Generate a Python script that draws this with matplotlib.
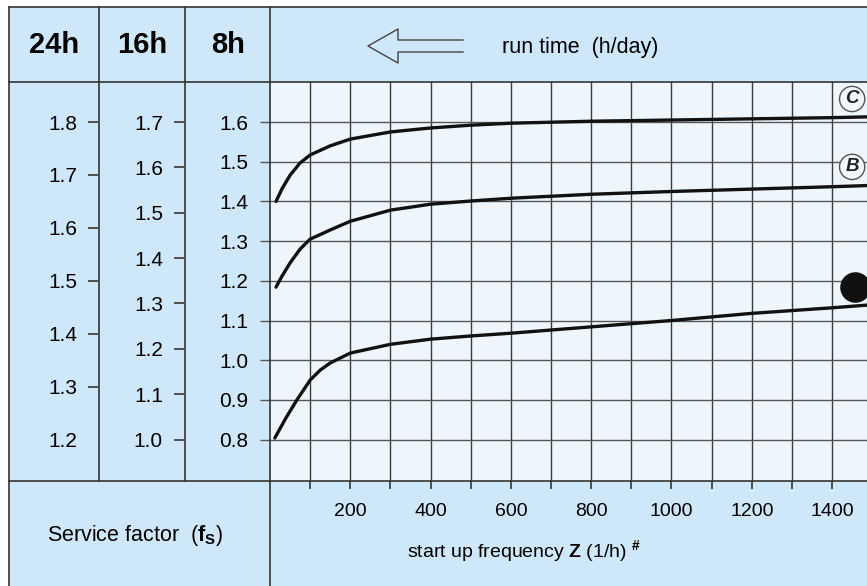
import numpy as np
import matplotlib
matplotlib.use("Agg")
import matplotlib.pyplot as plt
from matplotlib.lines import Line2D
from matplotlib.patches import Rectangle

plt.rcParams['font.family'] = ['Liberation Sans', 'DejaVu Sans']
plt.rcParams['mathtext.fontset'] = 'custom'
plt.rcParams['mathtext.rm'] = 'Liberation Sans'
plt.rcParams['mathtext.bf'] = 'Liberation Sans:bold'
plt.rcParams['mathtext.it'] = 'Liberation Sans:italic'

# ---------------------------------------------------------------- data
# start up frequency Z (1/h) and service factor on the 8h scale
z_c = [15, 30, 50, 75, 100, 150, 200, 300, 400, 500, 600, 800, 1000, 1200, 1400, 1490]
fs_c = [1.400, 1.432, 1.466, 1.497, 1.517, 1.540, 1.557, 1.575, 1.585, 1.592,
        1.597, 1.602, 1.605, 1.608, 1.611, 1.613]

z_b = [15, 30, 50, 75, 100, 150, 200, 300, 400, 500, 600, 800, 1000, 1200, 1400, 1490]
fs_b = [1.184, 1.212, 1.245, 1.280, 1.305, 1.328, 1.350, 1.378, 1.393, 1.401,
        1.408, 1.418, 1.425, 1.431, 1.437, 1.440]

z_a = [12, 40, 67, 100, 125, 150, 200, 300, 400, 500, 600, 800, 1000, 1200, 1400, 1490]
fs_a = [0.804, 0.855, 0.900, 0.950, 0.975, 0.993, 1.018, 1.040, 1.053, 1.061,
        1.068, 1.084, 1.100, 1.118, 1.132, 1.139]

ticks_8h = [0.8, 0.9, 1.0, 1.1, 1.2, 1.3, 1.4, 1.5, 1.6]
labels_8h = ['0.8', '0.9', '1.0', '1.1', '1.2', '1.3', '1.4', '1.5', '1.6']
ticks_16h = [1.0, 1.1, 1.2, 1.3, 1.4, 1.5, 1.6, 1.7]
labels_16h = ['1.0', '1.1', '1.2', '1.3', '1.4', '1.5', '1.6', '1.7']
ticks_24h = [1.2, 1.3, 1.4, 1.5, 1.6, 1.7, 1.8]
labels_24h = ['1.2', '1.3', '1.4', '1.5', '1.6', '1.7', '1.8']

z_major = [200, 400, 600, 800, 1000, 1200, 1400]
z_minor = [100, 300, 500, 700, 900, 1100, 1300]

headers = ['24h', '16h', '8h']

# curve markers at right edge
label_z, label_c, label_b = 1450, 1.658, 1.487
dot_z, dot_fs = 1457, 1.184


def to24(v):  # 8h scale -> 24h scale
    return 1.2 + (v - 0.8) * 0.75


def to16(v):  # 8h scale -> 16h scale
    return 1.0 + (v - 0.8) * 0.875


# ---------------------------------------------------------------- layout
W, H = 867, 586
fig = plt.figure(figsize=(W / 100, H / 100), dpi=100)
fig.patch.set_facecolor('white')

BLUE = '#cee8f9'
PALE = '#eef6fc'
LINE = '#333333'


def fx(px):
    return px / W


def fy(py):
    return 1 - py / H


def rect(x0, y0, x1, y1, color):
    fig.add_artist(Rectangle((fx(x0), fy(y1)), fx(x1) - fx(x0), fy(y0) - fy(y1),
                             transform=fig.transFigure, color=color, lw=0, zorder=-5))


def pline(xs, ys, lw=1.2, color=LINE):
    fig.add_artist(Line2D([fx(x) for x in xs], [fy(y) for y in ys],
                          transform=fig.transFigure, color=color, lw=lw, zorder=5))


rect(9, 7, 867, 586, BLUE)

# main chart
ax = fig.add_axes([fx(270), fy(481), fx(867) - fx(270), (481 - 82) / H])
ax.set_facecolor(PALE)
ax.set_xlim(0, 1487)
ax.set_ylim(0.6957, 1.7008)
for s in ax.spines.values():
    s.set_visible(False)

ax.set_xticks(z_major)
ax.set_xticklabels([str(v) for v in z_major], fontsize=14)
ax.set_xticks(z_minor, minor=True)
ax.set_yticks(ticks_8h)
ax.set_yticklabels(labels_8h, fontsize=15)
ax.tick_params(axis='x', which='both', direction='out', length=6, width=1.2,
               color=LINE, pad=10)
ax.tick_params(axis='y', direction='out', length=7.2, width=1.0, color='#555555',
               pad=8.6)
ax.grid(which='both', axis='x', color='#3a3a3a', lw=1.0)
ax.grid(which='major', axis='y', color='#555555', lw=1.0)
ax.set_axisbelow(True)

ax.plot(z_c, fs_c, color='#111111', lw=2.4, solid_capstyle='round', zorder=3)
ax.plot(z_b, fs_b, color='#111111', lw=2.4, solid_capstyle='round', zorder=3)
ax.plot(z_a, fs_a, color='#111111', lw=2.4, solid_capstyle='round', zorder=3)
ax.plot([dot_z], [dot_fs], 'o', color='#111111', ms=21, zorder=4, clip_on=False)

for txt, yv in [('C', label_c), ('B', label_b)]:
    ax.text(label_z, yv, txt, fontsize=13.5, fontweight='bold', fontstyle='italic',
            ha='center', va='center', color='#222222', zorder=4,
            bbox=dict(boxstyle='circle,pad=0.22', fc='#f4f8fb', ec='#555555', lw=1))

# 16h / 24h scales as narrow tick axes
for x0, x1, fn, tks, lbls in [(88, 99, to24, ticks_24h, labels_24h),
                              (174, 185, to16, ticks_16h, labels_16h)]:
    a = fig.add_axes([fx(x0), fy(481), fx(x1) - fx(x0), (481 - 82) / H])
    a.patch.set_visible(False)
    for s in a.spines.values():
        s.set_visible(False)
    a.set_ylim(fn(0.6957), fn(1.7008))
    a.set_xticks([])
    a.set_yticks(tks)
    a.set_yticklabels(lbls, fontsize=15)
    a.tick_params(axis='y', direction='in', length=7.2, width=1.3, color='#444444',
                  pad=8)
    if fn is to24:
        a.yaxis.get_major_ticks()[0].tick1line.set_visible(False)

# table lines
pline([9, 867], [7, 7])
pline([9, 867], [82, 82])
pline([9, 867], [481, 481])
pline([9, 9], [7, 586])
pline([99, 99], [7, 481])
pline([185, 185], [7, 481])
pline([270, 270], [7, 586])

# header texts
for txt, cx in zip(headers, [54, 142, 228]):
    fig.text(fx(cx), fy(45), txt, fontsize=21, fontweight='bold',
             ha='center', va='center')

fig.text(fx(502), fy(48), 'run time  (h/day)', fontsize=15.5, ha='left', va='center')

# outline arrow pointing left
pline([463, 398, 398, 368, 398, 398, 463], [40, 40, 29, 46, 63, 52, 52],
      lw=1.0, color='#444444')

fig.text(fx(135), fy(536), r'Service factor  $(\mathbf{f}_\mathbf{S})$',
         fontsize=15.5, ha='center', va='center')
fig.text(fx(524), fy(551), r'start up frequency $\mathbf{Z}$ (1/h) $^{\mathbf{\#}}$',
         fontsize=14, ha='center', va='center')

fig.savefig('out.png', dpi=100, facecolor='white')
